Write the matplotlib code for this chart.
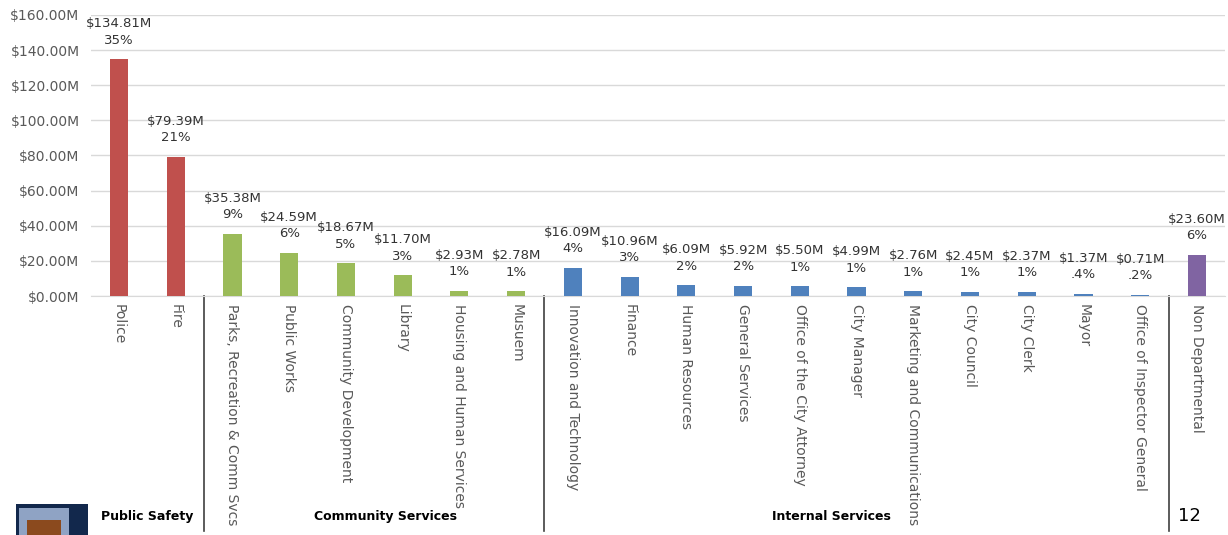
import matplotlib
matplotlib.use('Agg')
import matplotlib.pyplot as plt
from matplotlib.patches import Rectangle

# departments and budgets (millions)
depts = ['Police', 'Fire', 'Parks, Recreation & Comm Svcs', 'Public Works',
         'Community Development', 'Library', 'Housing and Human Services', 'Musuem',
         'Innovation and Technology', 'Finance', 'Human Resources', 'General Services',
         'Office of the City Attorney', 'City Manager', 'Marketing and Communications',
         'City Council', 'City Clerk', 'Mayor', 'Office of Inspector General',
         'Non Departmental']
budget = [134.81, 79.39, 35.38, 24.59, 18.67, 11.70, 2.93, 2.78,
          16.09, 10.96, 6.09, 5.92, 5.50, 4.99, 2.76, 2.45, 2.37, 1.37, 0.71,
          23.60]
pct = ['35%', '21%', '9%', '6%', '5%', '3%', '1%', '1%',
       '4%', '3%', '2%', '2%', '1%', '1%', '1%', '1%', '1%', '.4%', '.2%',
       '6%']
groups = ['Public Safety', 'Community Services', 'Internal Services']
group_sizes = [2, 6, 11, 1]

group_colors = ['#C0504D', '#9BBB59', '#4F81BD', '#8064A2']
colors = []
for c, n in zip(group_colors, group_sizes):
    colors += [c] * n

fig = plt.figure(figsize=(12.28, 5.35), dpi=100)
ax = fig.add_axes([0.0738, 0.4467, 0.924, 0.5253])

x = list(range(len(depts)))
ax.bar(x, budget, width=0.32, color=colors, zorder=3)

for xi, v, p in zip(x, budget, pct):
    ax.annotate('$%.2fM\n%s' % (v, p), (xi, v), xytext=(0, 9),
                textcoords='offset points', ha='center', va='bottom',
                fontsize=9.5, color='#333333', linespacing=1.35)

ax.set_ylim(0, 160)
ax.set_xlim(-0.5, 19.5)
ax.set_yticks(range(0, 161, 20))
ax.set_yticklabels(['$%.2fM' % t for t in range(0, 161, 20)])
ax.yaxis.grid(True, color='#D9D9D9', linewidth=1, zorder=0)
for s in ['top', 'right', 'left']:
    ax.spines[s].set_visible(False)
ax.spines['bottom'].set_color('#D9D9D9')
ax.tick_params(axis='y', length=0, labelsize=10, labelcolor='#595959', pad=8)
ax.tick_params(axis='x', length=0, labelsize=10, labelcolor='#595959', pad=6)
ax.set_xticks(x)
ax.set_xticklabels(depts, rotation=-90, va='top', ha='center')

# group separators
trans = ax.get_xaxis_transform()
edge = -0.5
for n in group_sizes[:-1]:
    edge += n
    ax.plot([edge, edge], [0, -0.835], transform=trans, color='#404040',
            linewidth=1.2, clip_on=False)

# group labels
group_label_x = [0.5, 4.69, 12.56]
for g, gx in zip(groups, group_label_x):
    ax.text(gx, -0.785, g, transform=trans, ha='center', va='center',
            fontsize=9, fontweight='bold', color='black')

# page number and logo
fig.text(0.969, 0.035, '12', ha='center', va='center', fontsize=13, color='black')
fig.patches.append(Rectangle((0.013, 0.0), 0.059, 0.058, transform=fig.transFigure,
                             facecolor='#12284C', edgecolor='none'))
fig.patches.append(Rectangle((0.0155, 0.0), 0.041, 0.05, transform=fig.transFigure,
                             facecolor='#8FA3C4', edgecolor='none'))
fig.patches.append(Rectangle((0.022, 0.0), 0.028, 0.028, transform=fig.transFigure,
                             facecolor='#8B4A1E', edgecolor='none'))

fig.savefig('out.png', dpi=100)
